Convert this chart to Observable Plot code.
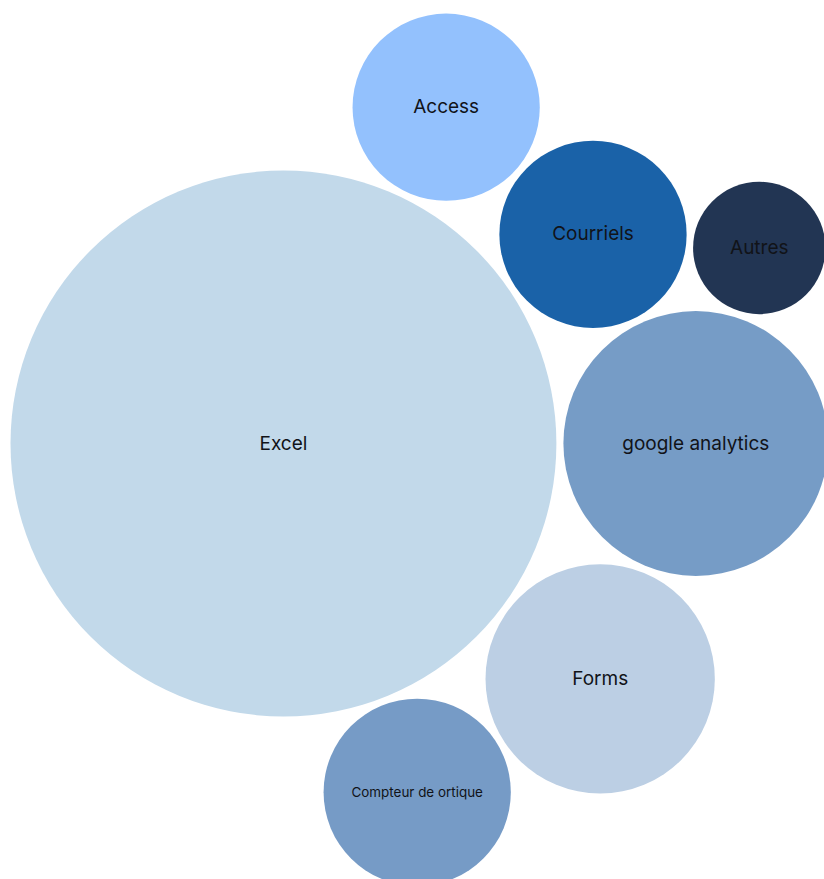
<!DOCTYPE html>
<html>
<head>
<meta charset="utf-8">
<script src="https://cdn.jsdelivr.net/npm/d3@7"></script>
<script src="https://cdn.jsdelivr.net/npm/@observablehq/plot@0.6"></script>
<style>
  html, body { margin: 0; padding: 0; background: #fff; }
  #chart svg { display: block; }
</style>
</head>
<body>
<div id="chart"></div>
<script>
// Data (order matters for the circle packing)
const categories = ["Excel", "google analytics", "Forms", "Courriels", "Access", "Compteur de ortique", "Autres"];
const values = [17, 4, 3, 2, 2, 2, 1];
const palette = ["#c2d9ea", "#769cc6", "#bccfe4", "#1a62a8", "#93c1fd", "#769bc6", "#223553"];

const W = 824, H = 879;
const k = 66.2;     // px per sqrt(unit)
const pad = 3.5;    // half gap between bubbles

const nodes = categories.map((name, i) => ({name, value: values[i], r: k * Math.sqrt(values[i]) + pad}));
d3.packSiblings(nodes);

// Place the packed layout in the frame: largest bubble's left edge / centre line
const big = nodes[0];
const x0 = big.x - (big.r - pad) - 10;
const y0 = big.y - 443;

const fontSize = d => Math.min(19, (2 * (d.r - pad) * 0.75) / (d.name.length * 0.55));

const chart = Plot.plot({
  width: W,
  height: H,
  margin: 0,
  x: {domain: [x0, x0 + W], range: [0, W], axis: null},
  y: {domain: [y0, y0 + H], range: [0, H], axis: null},
  r: {type: "identity"},
  color: {domain: categories, range: palette},
  style: {fontFamily: "Inter, 'Noto Sans', sans-serif", background: "#fff"},
  marks: [
    Plot.dot(nodes, {x: "x", y: "y", r: d => d.r - pad, fill: "name", stroke: null}),
    Plot.text(nodes, {x: "x", y: "y", text: "name", fontSize, fill: "#111318", fontFamily: "Inter, 'Noto Sans', sans-serif"})
  ]
});
document.getElementById("chart").appendChild(chart);
</script>
</body>
</html>
